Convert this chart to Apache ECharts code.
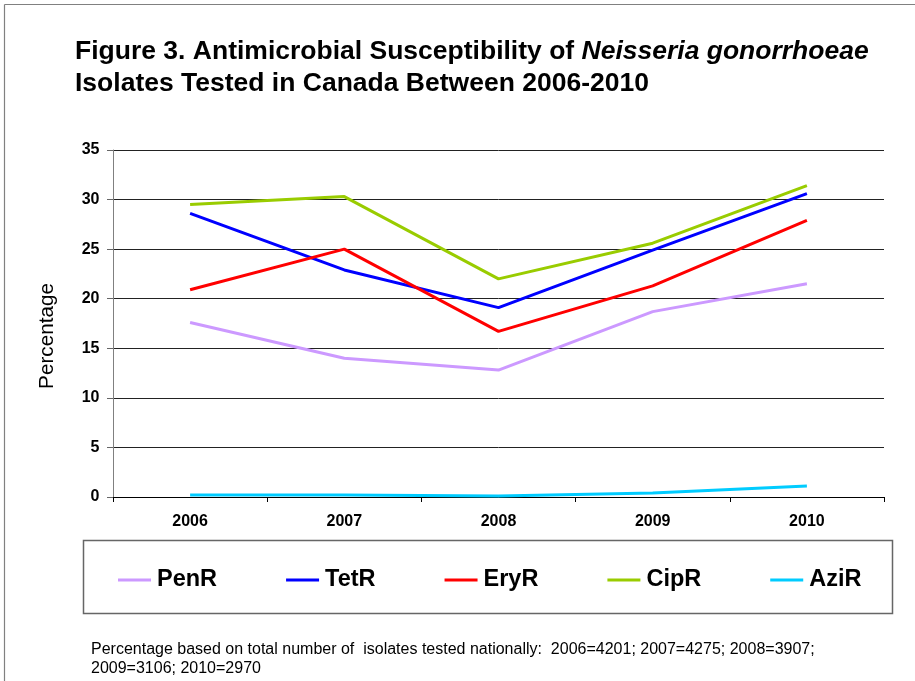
<!DOCTYPE html>
<html>
<head>
<meta charset="utf-8">
<script src="https://cdn.jsdelivr.net/npm/echarts@6/dist/echarts.min.js"></script>
<style>
  html, body { margin: 0; padding: 0; background: #fff; }
  #chart { width: 915px; height: 681px; }
</style>
</head>
<body>
<div id="chart"></div>
<script>
// Survey years and resistance percentages for each antimicrobial
const years = ['2006', '2007', '2008', '2009', '2010'];
const penR = [17.6, 14.0, 12.8, 18.7, 21.5];
const tetR = [28.6, 22.9, 19.1, 24.9, 30.6];
const eryR = [20.9, 25.0, 16.7, 21.3, 27.9];
const cipR = [29.5, 30.3, 22.0, 25.6, 31.4];
const aziR = [0.2, 0.2, 0.1, 0.4, 1.1];

const seriesNames = ['PenR', 'TetR', 'EryR', 'CipR', 'AziR'];
const seriesColors = ['#CC99FF', '#0000FF', '#FF0000', '#99CC00', '#00CCFF'];
const seriesValues = [penR, tetR, eryR, cipR, aziR];

const FONT = '"Liberation Sans", Arial, sans-serif';

const chart = echarts.init(document.getElementById('chart'), null, { renderer: 'canvas' });

chart.setOption({
  animation: false,
  backgroundColor: '#fff',
  textStyle: { fontFamily: FONT },
  title: {
    left: 75,
    top: 36,
    padding: 0,
    text: '{b|Figure 3. Antimicrobial Susceptibility of }{i|Neisseria gonorrhoeae}\n{b|Isolates Tested in Canada Between 2006-2010}',
    textStyle: {
      rich: {
        b: { fontFamily: FONT, fontSize: 26.5, fontWeight: 'bold', color: '#000', lineHeight: 32 },
        i: { fontFamily: FONT, fontSize: 26.5, fontWeight: 'bold', fontStyle: 'italic', color: '#000', lineHeight: 32 }
      }
    }
  },
  graphic: [
    // frame edges along top and left
    { type: 'line', shape: { x1: 4.5, y1: 4.5, x2: 915, y2: 4.5 }, style: { stroke: '#808080', lineWidth: 1.2 }, silent: true },
    { type: 'line', shape: { x1: 4.5, y1: 4.5, x2: 4.5, y2: 681 }, style: { stroke: '#808080', lineWidth: 1.2 }, silent: true },
    // y-axis title
    {
      type: 'text', x: 47, y: 336, rotation: Math.PI / 2,
      style: { text: 'Percentage', font: '20.7px ' + FONT, fill: '#000', align: 'center', verticalAlign: 'middle' },
      silent: true
    },
    // legend box
    { type: 'rect', shape: { x: 83.5, y: 540.5, width: 809, height: 73 }, style: { fill: 'none', stroke: '#666', lineWidth: 1.5 }, silent: true, z: 0 },
    // footnote
    {
      type: 'text', left: 91, top: 639.5,
      style: {
        text: 'Percentage based on total number of  isolates tested nationally:  2006=4201; 2007=4275; 2008=3907;\n2009=3106; 2010=2970',
        font: '16px ' + FONT, fill: '#000', lineHeight: 19.3
      },
      silent: true
    }
  ],
  legend: {
    data: seriesNames,
    left: 118,
    top: 568,
    padding: 0,
    itemGap: 69,
    itemWidth: 33,
    itemHeight: 3,
    icon: 'rect',
    textStyle: { fontFamily: FONT, fontSize: 23.5, fontWeight: 'bold', color: '#000', padding: [0, 0, 0, 1] }
  },
  grid: { left: 113, right: 31, top: 150, bottom: 184, containLabel: false },
  xAxis: {
    type: 'category',
    data: years,
    boundaryGap: true,
    axisLine: { lineStyle: { color: '#000', width: 1 } },
    axisTick: { show: true, length: 5, lineStyle: { color: '#000' } },
    axisLabel: { fontFamily: FONT, fontSize: 16, fontWeight: 'bold', color: '#000', margin: 17 },
    splitLine: { show: false }
  },
  yAxis: {
    type: 'value',
    min: 0,
    max: 35,
    interval: 5,
    axisLine: { show: true, lineStyle: { color: '#808080', width: 1 } },
    axisTick: { show: true, length: 6, lineStyle: { color: '#666' } },
    axisLabel: { fontFamily: FONT, fontSize: 16, fontWeight: 'bold', color: '#000', margin: 13.5 },
    splitLine: { show: true, lineStyle: { color: '#222', width: 1 } }
  },
  series: seriesNames.map((name, i) => ({
    name: name,
    type: 'line',
    data: seriesValues[i],
    showSymbol: false,
    symbol: 'none',
    color: seriesColors[i],
    lineStyle: { color: seriesColors[i], width: 3 },
    itemStyle: { color: seriesColors[i] },
    z: 2
  }))
});
</script>
</body>
</html>
